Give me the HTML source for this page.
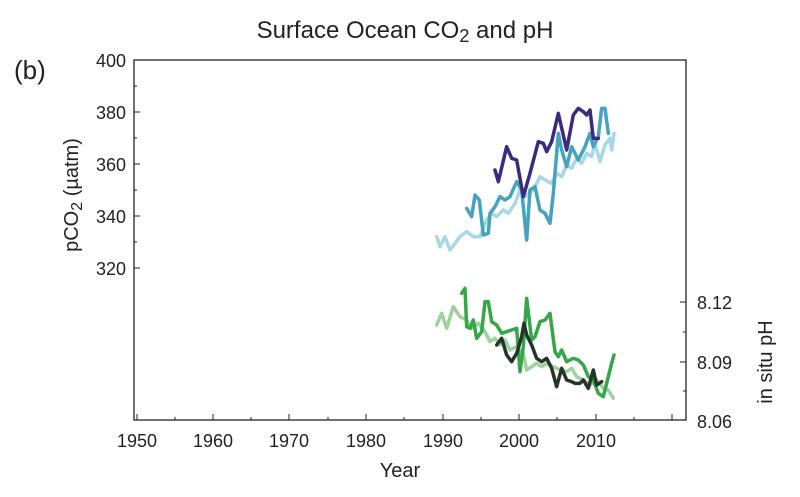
<!DOCTYPE html>
<html><head><meta charset="utf-8"><style>
body{margin:0;background:#fff;}
svg{display:block;font-family:"Liberation Sans",sans-serif;}
</style></head><body>
<svg width="800" height="497" viewBox="0 0 800 497">
<text x="405" y="38" font-size="24" text-anchor="middle" fill="#222">Surface Ocean CO<tspan font-size="18" dy="4">2</tspan><tspan dy="-4"> and pH</tspan></text>
<text x="14" y="79" font-size="26" fill="#222">(b)</text>
<rect x="134" y="60" width="552" height="360" fill="none" stroke="#222" stroke-width="1.3"/>
<g stroke="#222" stroke-width="1">
<path d="M137 420v-6M175 420v-3M213 420v-6M251 420v-3M289 420v-6M328 420v-3M366 420v-6M404 420v-3M443 420v-6M481 420v-3M519 420v-6M557 420v-3M596 420v-6M634 420v-3M672 420v-6"/>
<path d="M134 60h6M134 86h3M134 112h6M134 138h3M134 164h6M134 190h3M134 216h6M134 242h3M134 268h6"/>
<path d="M686 302h-6M686 332h-3M686 362h-6M686 391h-3"/>
</g>
<g font-size="18" fill="#222" text-anchor="middle">
<text x="137" y="447">1950</text><text x="213" y="447">1960</text><text x="289" y="447">1970</text><text x="366" y="447">1980</text><text x="443" y="447">1990</text><text x="519" y="447">2000</text><text x="596" y="447">2010</text>
</g>
<g font-size="18" fill="#222" text-anchor="end">
<text x="126" y="67">400</text><text x="126" y="119">380</text><text x="126" y="171">360</text><text x="126" y="223">340</text><text x="126" y="275">320</text>
</g>
<g font-size="18" fill="#222">
<text x="697" y="309">8.12</text><text x="697" y="369">8.09</text><text x="697" y="428">8.06</text>
</g>
<text x="400" y="477" font-size="20" text-anchor="middle" fill="#222">Year</text>
<text transform="translate(78,195) rotate(-90)" font-size="20" text-anchor="middle" fill="#222">pCO<tspan font-size="16" dy="4">2</tspan><tspan dy="-4"> (µatm)</tspan></text>
<text transform="translate(772,362) rotate(-90)" font-size="20" text-anchor="middle" fill="#222">in situ pH</text>
<g fill="none" stroke-linejoin="round" stroke-linecap="round">
<g transform="translate(420,80) scale(0.3333)">
<polyline vector-effect="non-scaling-stroke" stroke="#a8d8e6" stroke-width="3.5" points="50,470 60,500 75,470 90,510 120,470 140,455 160,470 180,470 200,420 215,400 230,410 250,390 265,400 285,370 300,330 315,350 340,330 360,290 375,300 395,310 410,280 425,290 440,255 455,265 470,235 485,250 500,220 515,230 525,190 540,245 555,195 570,175 575,210 582,160"/>
<polyline vector-effect="non-scaling-stroke" stroke="#45a3bf" stroke-width="3.5" points="140,385 155,410 165,345 178,360 190,465 205,460 210,400 225,380 240,350 255,360 270,350 290,305 305,330 320,480 330,330 345,320 360,390 375,400 390,430 400,340 415,160 425,210 440,260 455,200 475,240 495,200 510,160 520,200 535,170 545,85 555,85 565,160"/>
<polyline vector-effect="non-scaling-stroke" stroke="#3b2a7e" stroke-width="3.5" points="225,270 235,305 260,200 275,235 290,240 310,350 330,280 355,185 370,190 380,215 395,185 415,100 440,210 460,105 475,85 490,95 500,105 510,90 520,175 535,175"/>
</g>
<g transform="translate(420,270) scale(0.3333)">
<polyline vector-effect="non-scaling-stroke" stroke="#9fd1a0" stroke-width="3.5" points="50,165 65,130 80,175 100,110 120,140 140,150 155,175 175,160 195,185 210,215 225,205 240,225 255,210 270,240 290,230 310,250 320,300 335,290 350,280 365,290 380,280 400,290 420,300 440,305 455,295 470,320 490,330 510,345 530,330 550,355 565,360 580,385"/>
<polyline vector-effect="non-scaling-stroke" stroke="#35a64a" stroke-width="3.5" points="125,70 135,55 140,170 150,175 160,150 170,205 185,185 195,95 205,95 215,155 230,165 245,190 260,185 275,180 290,175 300,305 310,230 320,85 335,210 345,200 360,155 375,150 390,130 405,245 415,260 425,240 440,275 460,265 475,270 490,285 505,320 520,330 535,370 550,380 560,340 575,280 582,255"/>
<polyline vector-effect="non-scaling-stroke" stroke="#25352a" stroke-width="3.5" points="230,225 245,205 260,255 275,275 290,250 305,200 312,160 320,195 335,225 350,265 365,275 380,265 395,295 410,350 425,295 440,330 455,335 465,340 480,340 490,330 505,355 520,300 530,345 545,335"/>
</g>
</g>
</svg>
</body></html>
